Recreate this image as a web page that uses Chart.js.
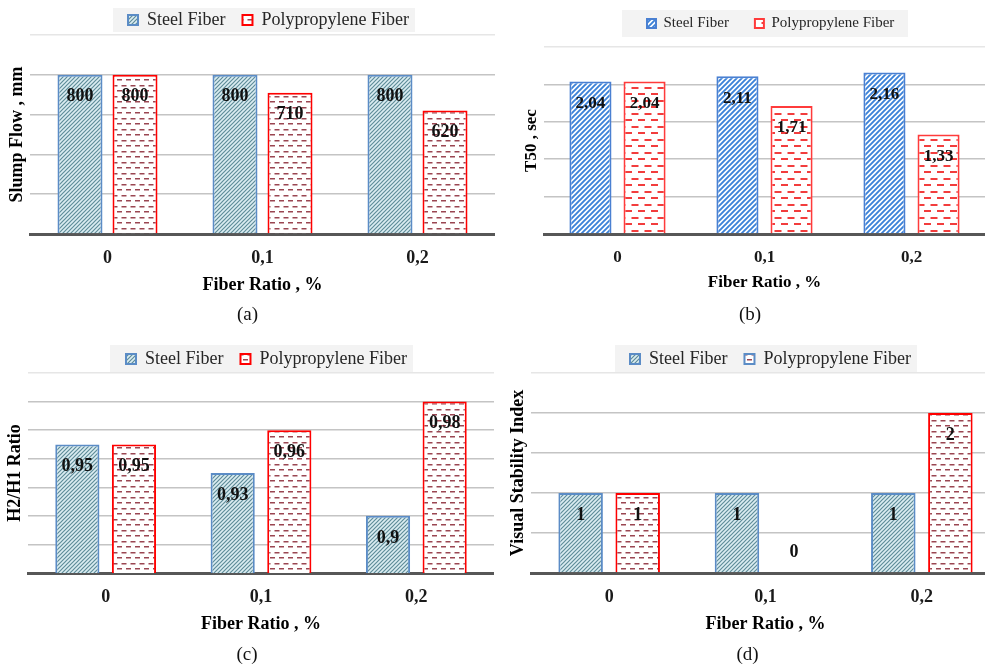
<!DOCTYPE html>
<html>
<head>
<meta charset="utf-8">
<script src="https://cdn.jsdelivr.net/npm/chart.js@4.4.1/dist/chart.umd.min.js"></script>
<style>
  html, body { margin: 0; padding: 0; background: #fff; }
  body { position: relative; width: 985px; height: 666px; overflow: hidden; }
  canvas { position: absolute; }
</style>
</head>
<body>
<canvas id="chartA" width="495" height="333" style="left:0;top:0"></canvas>
<canvas id="chartB" width="490" height="333" style="left:495px;top:0"></canvas>
<canvas id="chartC" width="494" height="331" style="left:0;top:335px"></canvas>
<canvas id="chartD" width="505" height="331" style="left:495px;top:335px"></canvas>
<script>
// categorias e series
const categories = ['0', '0,1', '0,2'];
const seriesNames = ['Steel Fiber', 'Polypropylene Fiber'];

// (a) Slump flow, mm
const slumpSteel = [800, 800, 800];
const slumpPP = [800, 710, 620];

// (b) T50, sec
const t50Steel = [2.04, 2.11, 2.16];
const t50PP = [2.04, 1.71, 1.33];

// (c) H2/H1
const ratioSteel = [0.95, 0.93, 0.90];
const ratioPP = [0.95, 0.96, 0.98];

// (d) Visual stability index
const vsiSteel = [1, 1, 1];
const vsiPP = [1, 0, 2];

Chart.defaults.font.family = '"Liberation Serif", "Times New Roman", serif';
Chart.defaults.color = '#222';

// hachuras
function hatchPattern(bg, fg, size, lw) {
    const c = document.createElement('canvas');
    c.width = c.height = size;
    const g = c.getContext('2d');
    g.fillStyle = bg;
    g.fillRect(0, 0, size, size);
    g.strokeStyle = fg;
    g.lineWidth = lw;
    g.beginPath();
    g.moveTo(0, size); g.lineTo(size, 0);
    g.moveTo(-size / 2, size / 2); g.lineTo(size / 2, -size / 2);
    g.moveTo(size / 2, size * 1.5); g.lineTo(size * 1.5, size / 2);
    g.stroke();
    return g.createPattern(c, 'repeat');
}

function dashPattern(fg, w, rowGap, dash, lw) {
    const h = Math.round(rowGap * 2);
    const c = document.createElement('canvas');
    c.width = w; c.height = h;
    const g = c.getContext('2d');
    g.fillStyle = '#fff';
    g.fillRect(0, 0, w, h);
    g.fillStyle = fg;
    const y1 = 2, y2 = 2 + Math.round(rowGap);
    g.fillRect(0, y1, dash, lw);
    g.fillRect(w / 2, y2, dash, lw);
    g.fillRect(w / 2 - w, y2, dash, lw);
    return g.createPattern(c, 'repeat');
}

const tealHatch = hatchPattern('#dbedf2', '#5f8c99', 4, 1.2);
const maroonDash = dashPattern('#9a4652', 9, 5.5, 5, 1.5);
const blueHatch = hatchPattern('#ffffff', '#3c82d8', 5, 1.9);
const redDash = dashPattern('#f23d3d', 13, 6.5, 7, 2);

// legenda, fundo da legenda e rotulos das barras
const panelPlugin = {
    id: 'panel',
    afterInit(chart) {
        const lg = chart.legend;
        const fit = lg.fit;
        lg.fit = function () {
            fit.call(this);
            this.height = chart.options.plugins.panel.legendH;
        };
    },
    afterLayout(chart, args, opts) {
        const lg = chart.legend;
        const pad = opts.legendGap;
        const x0 = (lg.left + pad + lg.right - lg.lineWidths[0]) / 2;
        const dx = opts.legendX - x0;
        lg.left += dx;
        lg.right += dx;
        lg.top = opts.legendY - pad - opts.legendSize / 2;
        lg.bottom = lg.top + lg.height;
        if (opts.letterDx && chart.titleBlock) {
            chart.titleBlock.left += opts.letterDx;
            chart.titleBlock.right += opts.letterDx;
        }
    },
    beforeDraw(chart, args, opts) {
        const [x, y, w, h] = opts.legendBg;
        const ctx = chart.ctx;
        ctx.save();
        ctx.fillStyle = '#f3f3f3';
        ctx.fillRect(x, y, w, h);
        ctx.restore();
    },
    afterDatasetsDraw(chart, args, opts) {
        const ctx = chart.ctx;
        ctx.save();
        ctx.font = 'bold ' + opts.valueSize + 'px "Liberation Serif", serif';
        ctx.fillStyle = '#111';
        ctx.textAlign = 'center';
        ctx.textBaseline = 'middle';
        chart.data.datasets.forEach((ds, di) => {
            chart.getDatasetMeta(di).data.forEach((bar, i) => {
                const txt = String(ds.data[i]).replace('.', ',');
                const y = bar.base - bar.y > 35 ? bar.y + 22 : bar.base - 21;
                ctx.fillText(txt, bar.x, y);
            });
        });
        ctx.restore();
    }
};

function createPanel(id, s) {
    return new Chart(document.getElementById(id), {
        type: 'bar',
        data: {
            labels: categories,
            datasets: [{
                label: seriesNames[0],
                data: s.steel,
                backgroundColor: s.steelFill,
                borderColor: s.steelLine,
                borderWidth: 2,
                categoryPercentage: s.cat,
                barPercentage: s.bar
            }, {
                label: seriesNames[1],
                data: s.pp,
                backgroundColor: s.ppFill,
                borderColor: s.ppLine,
                borderWidth: 2,
                categoryPercentage: s.cat,
                barPercentage: s.bar
            }]
        },
        options: {
            responsive: false,
            animation: false,
            layout: { padding: 0 },
            scales: {
                x: {
                    afterFit: sc => { sc.height = s.xAxisH; },
                    grid: { display: false, drawTicks: false },
                    border: { display: true, color: '#575757', width: 3 },
                    ticks: { color: '#1a1a1a', font: { size: s.tickSize, weight: 'bold' }, padding: s.tickPad },
                    title: {
                        display: true, text: 'Fiber Ratio , %', color: '#000',
                        font: { size: s.tickSize, weight: 'bold' }, padding: s.xTitlePad
                    }
                },
                y: {
                    afterFit: sc => { sc.width = s.yAxisW; },
                    min: s.min,
                    max: s.max,
                    ticks: { display: false, stepSize: s.step },
                    grid: {
                        drawTicks: false,
                        lineWidth: 1.5,
                        color: c => c.index === c.scale.ticks.length - 1 ? '#e6e6e6' : '#c4c4c4'
                    },
                    border: { display: false },
                    title: {
                        display: true, text: s.yTitle, color: '#000',
                        font: { size: s.yTitleSize, weight: 'bold' }, padding: s.yTitlePad
                    }
                }
            },
            plugins: {
                legend: {
                    position: 'top',
                    labels: {
                        color: '#262626',
                        font: { size: s.legendSize },
                        boxWidth: s.box,
                        boxHeight: s.box,
                        padding: s.legendGap,
                        generateLabels: chart => {
                            const items = Chart.defaults.plugins.legend.labels.generateLabels(chart);
                            if (s.ppLegendStroke) items[1].strokeStyle = s.ppLegendStroke;
                            return items;
                        }
                    }
                },
                title: {
                    display: true, position: 'bottom', text: s.letter, color: '#111',
                    font: { size: 19, weight: 'normal' }, padding: s.letterPad
                },
                tooltip: { enabled: false },
                panel: {
                    legendH: s.legendH, legendX: s.legendX, legendY: s.legendY,
                    legendSize: s.legendSize, legendGap: s.legendGap, legendBg: s.legendBg,
                    valueSize: s.valueSize, letterDx: s.letterDx || 0
                }
            }
        },
        plugins: [panelPlugin]
    });
}

// Criar os graficos
createPanel('chartA', {
    steel: slumpSteel, pp: slumpPP, yTitle: 'Slump Flow , mm', letter: '(a)',
    min: 0, max: 1000, step: 200,
    steelFill: tealHatch, steelLine: '#5b8cc6', ppFill: maroonDash, ppLine: '#ff0000',
    cat: 0.71, bar: 0.818,
    tickSize: 18, tickPad: 14, xTitlePad: { top: 4.6, bottom: 3.4 }, xAxisH: 65.2,
    yTitleSize: 18, yTitlePad: { top: 7, bottom: 1.4 }, yAxisW: 30, letterPad: { top: 4, bottom: 7 },
    legendSize: 18, box: 10, legendGap: 17, legendH: 35, legendX: 128, legendY: 20,
    legendBg: [113, 8, 302, 24], valueSize: 18
});

createPanel('chartB', {
    steel: t50Steel, pp: t50PP, yTitle: 'T50 , sec', letter: '(b)',
    min: 0, max: 2.5, step: 0.5,
    steelFill: blueHatch, steelLine: '#4a80d2', ppFill: redDash, ppLine: '#ff3b3b',
    cat: 0.736, bar: 0.778,
    tickSize: 17, tickPad: 13, xTitlePad: { top: 5.4, bottom: 6 }, xAxisH: 65.2,
    yTitleSize: 17, yTitlePad: { top: 26.8, bottom: 1.8 }, yAxisW: 49, letterPad: { top: 4, bottom: 7 },
    legendSize: 15, box: 9, legendGap: 26, legendH: 47, legendX: 152, legendY: 23.5,
    legendBg: [127, 10, 286, 27], valueSize: 17, letterDx: 10
});

createPanel('chartC', {
    steel: ratioSteel, pp: ratioPP, yTitle: 'H2/H1 Ratio', letter: '(c)',
    min: 0.86, max: 1.0, step: 0.02,
    steelFill: tealHatch, steelLine: '#5b8cc6', ppFill: maroonDash, ppLine: '#ff0000',
    cat: 0.729, bar: 0.78,
    tickSize: 18, tickPad: 14, xTitlePad: { top: 4.6, bottom: 4.4 }, xAxisH: 66.2,
    yTitleSize: 18, yTitlePad: { top: 4.2, bottom: 2.2 }, yAxisW: 28, letterPad: { top: 4, bottom: 0 },
    legendSize: 18, box: 10, legendGap: 17, legendH: 38, legendX: 126, legendY: 24,
    legendBg: [110, 10, 303, 27], valueSize: 18
});

createPanel('chartD', {
    steel: vsiSteel, pp: vsiPP, yTitle: 'Visual Stability Index', letter: '(d)',
    min: 0, max: 2.5, step: 0.5,
    steelFill: tealHatch, steelLine: '#5b8cc6', ppFill: maroonDash, ppLine: '#ff0000',
    cat: 0.73, bar: 0.78,
    tickSize: 18, tickPad: 14, xTitlePad: { top: 4.6, bottom: 4.4 }, xAxisH: 66.2,
    yTitleSize: 18, yTitlePad: { top: 12.2, bottom: 2.2 }, yAxisW: 36, letterPad: { top: 4, bottom: 0 },
    legendSize: 18, box: 10, legendGap: 17, legendH: 38, legendX: 135, legendY: 24,
    legendBg: [120, 10, 302, 27], valueSize: 18, ppLegendStroke: '#5b8cc6'
});
</script>
</body>
</html>
